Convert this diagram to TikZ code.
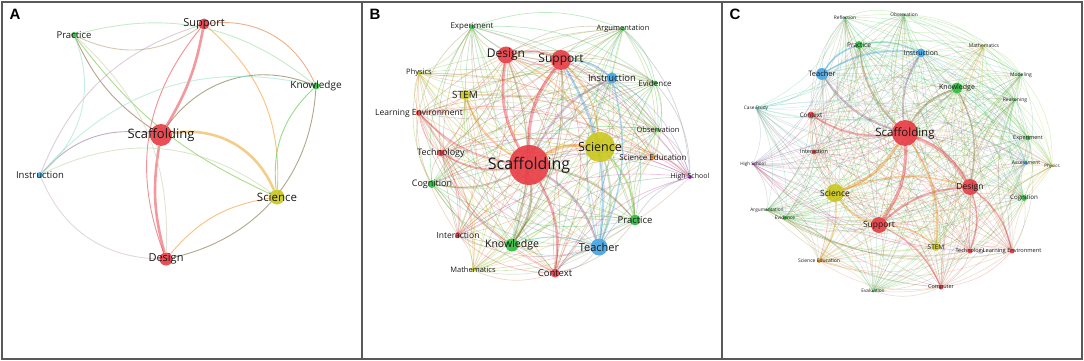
\documentclass[tikz,border=0pt]{standalone}
\usepackage{fontspec}
\setmainfont{Open Sans}
\newfontfamily\letterfont{Liberation Sans}
\usetikzlibrary{backgrounds}

\definecolor{vred}{RGB}{232,52,62}
\definecolor{vgreen}{RGB}{40,185,55}
\definecolor{vblue}{RGB}{62,160,225}
\definecolor{vyellow}{RGB}{200,198,20}
\definecolor{vorange}{RGB}{245,140,20}
\definecolor{vpurple}{RGB}{170,40,200}
\definecolor{vcyan}{RGB}{40,200,220}

% name/colour/x/y/diameter/font size/label
\def\nodesB{scaB/vred/529/165/40/16/Scaffolding,
  sciB/vyellow/600/147/30/12.5/Science,
  supB/vred/561/60/20/12/Support,
  desB/vred/506/55/17/12/Design,
  teaB/vblue/599/247/17/11/Teacher,
  knoB/vgreen/512/245/13/10.5/Knowledge,
  insB/vblue/612/78/11/9.5/Instruction,
  praB/vgreen/635/220/11/9.5/Practice,
  conB/vred/555/273/9/9.5/Context,
  stmB/vyellow/465/95/10/10/STEM,
  cogB/vgreen/432/184/8/9/Cognition,
  tecB/vred/441/153/7/9/Technology,
  lenB/vred/419/113/6/8.5/Learning Environment,
  intB/vred/458/235/6/8.5/Interaction,
  expB/vgreen/472/27/5/8/Experiment,
  argB/vgreen/623/29/4/7.5/Argumentation,
  phyB/vyellow/419/73/4/7.5/Physics,
  eviB/vgreen/655/83/5/8/Evidence,
  obsB/vgreen/658/130/4/7.5/Observation,
  sedB/vorange/653/157/5/8/Science Education,
  hscB/vpurple/690/177/4/7/High School,
  matB/vyellow/473/270/4/7.5/Mathematics}

\def\nodesC{scaC/vred/905/133/26/11.5/Scaffolding,
  desC/vred/970/187/16/8.5/Design,
  sciC/vyellow/835/193/18/8.5/Science,
  supC/vred/879/225/16/8.5/Support,
  teaC/vblue/822/74/12/7.5/Teacher,
  knoC/vgreen/957/88/11/7/Knowledge,
  insC/vblue/921/53/9/6.8/Instruction,
  praC/vgreen/859/45/8/6.5/Practice,
  conC/vred/811/115/7/6.2/Context,
  stmC/vyellow/936/247/8/6.5/STEM,
  intC/vred/814/152/5/5.5/Interaction,
  expC/vgreen/1028/138/5/5.5/Experiment,
  cogC/vgreen/1024/198/6/6.2/Cognition,
  tecC/vred/970/251/5/5.5/Technology,
  lenC/vred/1012/251/5/5.7/Learning Environment,
  comC/vred/941/287/5/5.5/Computer,
  refC/vgreen/845/18/3/4.8/Reflection,
  obsC/vgreen/904/15/3/4.8/Observation,
  matC/vyellow/984/46/3/5/Mathematics,
  modC/vgreen/1021/75/3/5/Modeling,
  casC/vcyan/756/108/3/4.7/Case Study,
  reaC/vgreen/1015/100/3/5/Reasoning,
  hscC/vpurple/753/164/3/4.6/High School,
  assC/vblue/1026/163/4/5.1/Assessment,
  phyC/vyellow/1052/166/3/4.5/Physics,
  argC/vgreen/767/210/3/4.7/Argumentation,
  eviC/vgreen/785/218/4/4.9/Evidence,
  sedC/vorange/819/261/4/5/Science Education,
  evaC/vgreen/873/291/3/4.8/Evaluation}

\begin{document}
\begin{tikzpicture}[x=1pt, y=-1pt,
    kw/.style={circle, inner sep=0pt, draw=none, fill=#1, fill opacity=0.88},
    lbl/.style={font=\fontsize{#1}{#1}\selectfont, inner sep=0pt, text=black!90},
    link/.style={draw=#1, line width=0.9pt, opacity=0.55},
    heavy/.style={draw=#1, line width=2.6pt, opacity=0.5},
    strong/.style={line width=#1, opacity=0.4, line cap=round},
    panel/.style={font=\letterfont\bfseries\fontsize{15}{15}\selectfont, inner sep=0pt},
    frame/.style={draw=black!65, line width=1.3pt}]
  \useasboundingbox (0,0) rectangle (1084,361);
  % panel frames
  \draw[frame] (2,2) rectangle (1082,359);
  \draw[frame] (362,2) -- (362,359);
  \draw[frame] (722,2) -- (722,359);
  \node[panel] (letA) at (15,14) {A};
  \node[panel] (letB) at (375,14) {B};
  \node[panel] (letC) at (735,14) {C};

  % panel A keywords
  \node[kw=vred, minimum size=22pt, label={[lbl=13]center:Scaffolding}] (scaA) at (161,135) {};
  \node[kw=vred, minimum size=11pt, label={[lbl=11]center:Support}] (supA) at (204,24) {};
  \node[kw=vgreen, minimum size=6pt, label={[lbl=9.5]center:Practice}] (praA) at (74,35) {};
  \node[kw=vgreen, minimum size=7pt, label={[lbl=10]center:Knowledge}] (knoA) at (316,86) {};
  \node[kw=vblue, minimum size=6pt, label={[lbl=9.5]center:Instruction}] (insA) at (40,175) {};
  \node[kw=vyellow, minimum size=15pt, label={[lbl=11.5]center:Science}] (sciA) at (277,197) {};
  \node[kw=vred, minimum size=13pt, label={[lbl=11]center:Design}] (desA) at (166,259) {};

  % panels B and C keywords
  \foreach \n/\c/\x/\y/\d/\f/\lab in \nodesB
    \node[kw=\c, minimum size=\d pt, label={[lbl=\f]center:\lab}] (\n) at (\x,\y) {};
  \foreach \n/\c/\x/\y/\d/\f/\lab in \nodesC
    \node[kw=\c, minimum size=\d pt, label={[lbl=\f]center:\lab}] (\n) at (\x,\y) {};

  \begin{pgfonlayer}{background}
    % panel A links
    \draw[heavy=vred] (scaA) to[bend right=10] (supA);
    \draw[heavy=vred] (scaA) to[bend right=12] (desA);
    \draw[heavy=vorange!70!vyellow] (scaA) to[bend left=38] (sciA);
    \draw[link=vred] (supA) to[bend right=30] (desA);
    \draw[link=vred!50!vgreen!80!black] (scaA) to[bend left=38] (knoA);
    \draw[link=vred!50!vblue] (insA) to[bend left=28] (scaA);
    \draw[link=vred!60!vgreen!80!black] (praA) to[bend right=15] (scaA);
    \draw[link=vorange] (supA) to[bend left=26] (sciA);
    \draw[link=vred!60!vyellow] (supA) to[bend left=36] (knoA);
    \draw[link=vred!50!vblue!60] (supA) to[bend right=25] (insA);
    \draw[link=vred!50!vgreen!70] (praA) to[bend right=30] (supA);
    \draw[link=vgreen!50] (praA) to[bend left=27] (knoA);
    \draw[link=vgreen!60!vyellow] (praA) to[bend right=14] (sciA);
    \draw[link=vred!40!vgreen!40] (praA) to[bend left=25] (desA);
    \draw[link=vgreen!50!vcyan!50] (praA) to[bend left=35] (insA);
    \draw[link=vgreen!50!vcyan!50] (insA) to[bend left=31] (knoA);
    \draw[link=vgreen!80!vyellow] (knoA) to[bend right=26] (sciA);
    \draw[link=vgreen!50!vred!80!black] (knoA) to[bend left=37] (desA);
    \draw[link=vblue!40!vyellow!60] (insA) to[bend left=31] (sciA);
    \draw[link=vorange] (sciA) to[bend right=20] (desA);
    \draw[link=vred!50!vblue!50] (insA) to[bend right=33] (desA);

    % panel B links
    \foreach \n/\c/\x/\y/\d/\f/\lab [count=\i] in \nodesB
      \foreach \m/\k/\ia/\ib/\ic/\id/\ie [count=\j] in \nodesB {
        \ifnum\j>\i
          \draw[draw=\c!50!\k, line width=0.65pt, opacity=0.32] (\n) to[bend left=20] (\m);
        \fi
      }
    \foreach \a/\b/\w/\col in {scaB/supB/3pt/vred, scaB/desB/2.6pt/vred,
        scaB/sciB/3pt/vorange, scaB/teaB/2pt/vred!50!vblue, scaB/knoB/2pt/vred!50!vgreen,
        scaB/conB/2pt/vred, scaB/tecB/1.5pt/vred, scaB/lenB/1.2pt/vred,
        scaB/stmB/1.5pt/vorange, scaB/praB/1.5pt/vred!50!vgreen, scaB/cogB/1.2pt/vred!50!vgreen,
        scaB/insB/1.5pt/vred!50!vblue, supB/sciB/1.5pt/vorange, supB/teaB/2pt/vblue,
        desB/supB/1.5pt/vred, sciB/teaB/1.5pt/vblue!50!vyellow, sciB/praB/1.5pt/vgreen!50!vyellow,
        insB/teaB/1.5pt/vblue, knoB/teaB/1pt/vgreen!50!vblue, desB/sciB/1.2pt/vorange,
        desB/knoB/1.2pt/vred!50!vgreen, supB/knoB/1.2pt/vred!50!vgreen, supB/insB/1.5pt/vblue,
        conB/teaB/1pt/vred!50!vblue}
      \draw[strong=\w, draw=\col] (\a) to[bend left=18] (\b);

    % panel C links
    \foreach \n/\c/\x/\y/\d/\f/\lab [count=\i] in \nodesC
      \foreach \m/\k/\ia/\ib/\ic/\id/\ie [count=\j] in \nodesC {
        \ifnum\j>\i
          \draw[draw=\c!50!\k, line width=0.5pt, opacity=0.27] (\n) to[bend left=20] (\m);
        \fi
      }
    \foreach \a/\b/\w/\col in {scaC/supC/3pt/vred, scaC/desC/3pt/vred,
        scaC/sciC/2.5pt/vorange, scaC/teaC/2pt/vred!50!vblue, scaC/knoC/2pt/vred!50!vgreen,
        scaC/insC/1.5pt/vred!50!vblue, scaC/praC/1.5pt/vred!50!vgreen, scaC/conC/1.5pt/vred,
        scaC/stmC/1.5pt/vorange, supC/desC/2pt/vred, supC/sciC/2pt/vorange,
        sciC/desC/1.5pt/vorange, teaC/praC/1.5pt/vblue, teaC/insC/1.5pt/vblue,
        knoC/desC/1.5pt/vred!50!vgreen, supC/stmC/1.2pt/vorange, desC/tecC/1.2pt/vred,
        desC/lenC/1.2pt/vred, supC/comC/1pt/vred, sciC/sedC/1pt/vorange,
        praC/insC/1.5pt/vgreen!50!vblue}
      \draw[strong=\w, draw=\col] (\a) to[bend left=18] (\b);
  \end{pgfonlayer}
\end{tikzpicture}
\end{document}
